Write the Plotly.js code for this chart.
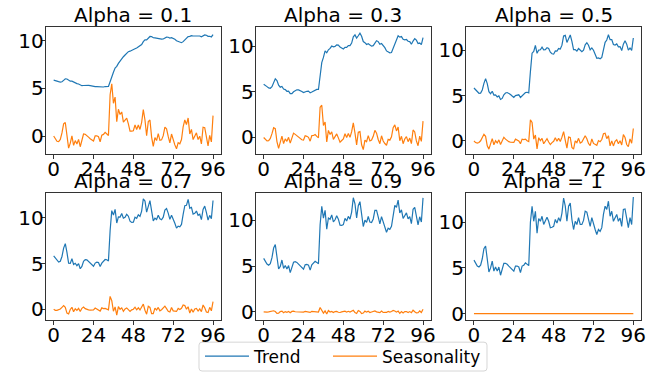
<!DOCTYPE html>
<html>
<head>
<meta charset="utf-8">
<script src="https://cdn.plot.ly/plotly-3.0.1.min.js"></script>
<style>html,body{margin:0;padding:0;background:#fff;}#chart{width:668px;height:375px;}</style>
</head>
<body>
<div id="chart"></div>
<script>
// ---------- data ----------
const hours = [0,1,2,3,4,5,6,7,8,9,10,11,12,13,14,15,16,17,18,19,20,21,22,23,24,25,26,27,28,29,30,31,32,33,34,35,36,37,38,39,40,41,42,43,44,45,46,47,48,49,50,51,52,53,54,55,56,57,58,59,60,61,62,63,64,65,66,67,68,69,70,71,72,73,74,75,76,77,78,79,80,81,82,83,84,85,86,87,88,89,90,91,92,93,94,95,96];

const panelTitles = ["Alpha = 0.1", "Alpha = 0.3", "Alpha = 0.5", "Alpha = 0.7", "Alpha = 0.9", "Alpha = 1"];
const seriesNames = ["Trend", "Seasonality"];
const xTickVals = [0, 24, 48, 72, 96];
const yTickVals = [0, 5, 10];

const trend01 = [5.85,5.82,5.75,5.69,5.65,5.68,5.83,5.98,5.97,5.82,5.74,5.74,5.63,5.58,5.49,5.45,5.32,5.27,5.29,5.32,5.32,5.31,5.28,5.23,5.17,5.18,5.18,5.17,5.10,5.11,5.13,5.18,5.20,5.20,5.68,6.29,6.67,7.12,7.29,7.60,7.85,8.13,8.30,8.48,8.68,8.83,8.88,8.94,9.00,9.13,9.21,9.34,9.41,9.57,9.88,10.07,10.07,10.24,10.42,10.41,10.29,10.27,10.22,10.25,10.20,10.15,10.16,10.26,10.35,10.34,10.26,10.29,10.23,10.13,9.98,9.90,9.81,9.77,9.88,10.07,10.20,10.41,10.43,10.51,10.47,10.48,10.52,10.47,10.47,10.38,10.48,10.58,10.55,10.44,10.44,10.37,10.61];
const season01 = [0,-0.32,-0.55,-0.59,-0.35,0.32,1.27,1.42,-0.17,-1.27,-0.74,0.01,-0.98,-0.48,-0.84,-0.35,-1.12,-0.47,0.21,0.19,0.08,-0.11,-0.28,-0.43,-0.52,0.02,0.02,-0.07,-0.60,0.09,0.17,0.38,0.20,0.05,4.32,5.46,3.43,4.08,1.51,2.80,2.25,2.52,1.46,1.63,1.87,1.28,0.52,0.51,0.55,1.17,0.69,1.16,0.69,1.43,2.77,1.68,0.03,1.51,1.68,-0.11,-1.09,-0.17,-0.47,0.25,-0.45,-0.40,0.04,0.94,0.75,-0.04,-0.71,0.21,-0.48,-0.93,-1.33,-0.70,-0.81,-0.37,0.97,1.68,1.20,1.89,0.22,0.69,-0.37,0.07,0.34,-0.37,-0.02,-0.83,0.92,0.87,-0.25,-1.04,0.06,-0.62,2.14];

const trend03 = [5.85,5.75,5.58,5.44,5.40,5.58,6.03,6.44,6.25,5.74,5.52,5.59,5.31,5.25,5.07,5.08,4.81,4.81,5.02,5.16,5.23,5.22,5.16,5.05,4.93,5.01,5.07,5.08,4.90,4.99,5.09,5.23,5.28,5.27,6.69,8.21,8.78,9.50,9.29,9.62,9.77,10.03,9.95,9.99,10.16,10.14,9.92,9.78,9.71,9.89,9.89,10.07,10.08,10.36,11.05,11.26,10.91,11.16,11.44,11.10,10.53,10.40,10.21,10.29,10.13,10.02,10.07,10.41,10.62,10.52,10.23,10.31,10.14,9.86,9.50,9.41,9.29,9.32,9.78,10.37,10.68,11.17,11.01,11.07,10.78,10.71,10.75,10.56,10.52,10.23,10.58,10.84,10.68,10.30,10.36,10.18,10.95];
const season03 = [0,-0.25,-0.38,-0.34,-0.10,0.42,1.07,0.96,-0.45,-1.19,-0.52,0.16,-0.66,-0.15,-0.42,0.02,-0.61,-0.01,0.48,0.34,0.17,-0.02,-0.16,-0.25,-0.28,0.19,0.13,0.02,-0.40,0.21,0.22,0.33,0.12,-0.02,3.31,3.54,1.33,1.70,-0.49,0.78,0.33,0.62,-0.20,0.11,0.39,-0.04,-0.52,-0.33,-0.16,0.41,0.01,0.43,0.02,0.64,1.61,0.49,-0.81,0.59,0.66,-0.80,-1.33,-0.30,-0.46,0.21,-0.38,-0.27,0.13,0.79,0.48,-0.22,-0.68,0.19,-0.39,-0.66,-0.85,-0.21,-0.29,0.08,1.07,1.38,0.72,1.14,-0.36,0.13,-0.68,-0.16,0.10,-0.46,-0.07,-0.68,0.82,0.61,-0.38,-0.90,0.14,-0.43,1.80];

const trend05 = [5.85,5.68,5.44,5.27,5.29,5.64,6.37,6.89,6.34,5.45,5.22,5.49,5.07,5.08,4.87,4.98,4.59,4.70,5.10,5.30,5.35,5.28,5.14,4.97,4.81,5.01,5.10,5.10,4.80,5.00,5.15,5.35,5.38,5.31,7.66,9.70,9.90,10.55,9.68,10.04,10.07,10.36,10.06,10.08,10.31,10.21,9.80,9.63,9.59,9.95,9.92,10.21,10.16,10.58,11.61,11.68,10.89,11.32,11.71,11.01,10.10,10.10,9.93,10.21,9.98,9.87,10.03,10.62,10.86,10.58,10.07,10.28,10.02,9.61,9.13,9.17,9.08,9.24,10.05,10.90,11.15,11.73,11.19,11.19,10.65,10.60,10.72,10.41,10.43,9.99,10.70,11.07,10.69,10.04,10.27,10.01,11.38];
const season05 = [0,-0.18,-0.24,-0.17,0.02,0.36,0.73,0.51,-0.54,-0.90,-0.22,0.26,-0.42,0.02,-0.22,0.12,-0.39,0.10,0.40,0.20,0.05,-0.08,-0.14,-0.17,-0.16,0.20,0.10,0.00,-0.30,0.20,0.15,0.20,0.03,-0.06,2.34,2.05,0.20,0.65,-0.88,0.36,0.03,0.29,-0.31,0.02,0.24,-0.11,-0.40,-0.18,-0.04,0.36,-0.02,0.29,-0.06,0.42,1.04,0.07,-0.79,0.43,0.39,-0.71,-0.90,0.00,-0.18,0.29,-0.23,-0.12,0.17,0.58,0.24,-0.28,-0.51,0.22,-0.27,-0.41,-0.48,0.04,-0.08,0.16,0.80,0.85,0.25,0.58,-0.54,0.01,-0.55,-0.05,0.13,-0.31,0.02,-0.44,0.70,0.38,-0.39,-0.64,0.23,-0.26,1.37];

const trend07 = [5.85,5.61,5.32,5.17,5.26,5.78,6.70,7.19,6.22,5.05,5.02,5.53,4.91,5.04,4.77,5.00,4.44,4.69,5.26,5.43,5.41,5.26,5.08,4.88,4.72,5.06,5.16,5.12,4.69,5.05,5.22,5.45,5.42,5.30,8.59,10.80,10.31,10.93,9.44,10.11,10.10,10.49,9.97,10.06,10.40,10.19,9.64,9.51,9.54,10.07,9.95,10.34,10.17,10.75,12.08,11.85,10.63,11.41,11.89,10.78,9.67,9.97,9.82,10.30,9.91,9.80,10.08,10.86,11.03,10.52,9.84,10.30,9.92,9.42,8.88,9.10,9.03,9.29,10.38,11.34,11.38,12.03,11.06,11.16,10.42,10.51,10.75,10.29,10.40,9.81,10.92,11.29,10.60,9.76,10.28,9.91,11.90];
const season07 = [0,-0.11,-0.12,-0.07,0.04,0.22,0.40,0.21,-0.42,-0.50,-0.02,0.22,-0.26,0.06,-0.12,0.10,-0.24,0.11,0.24,0.07,-0.01,-0.06,-0.08,-0.08,-0.07,0.14,0.04,-0.02,-0.19,0.16,0.08,0.10,-0.02,-0.05,1.41,0.95,-0.21,0.27,-0.64,0.29,0.00,0.16,-0.22,0.04,0.15,-0.09,-0.24,-0.06,0.01,0.23,-0.05,0.17,-0.07,0.25,0.57,-0.10,-0.53,0.34,0.21,-0.48,-0.47,0.13,-0.07,0.21,-0.16,-0.05,0.12,0.34,0.07,-0.22,-0.29,0.20,-0.17,-0.22,-0.23,0.10,-0.03,0.11,0.47,0.41,0.02,0.28,-0.41,0.04,-0.32,0.04,0.10,-0.19,0.05,-0.26,0.48,0.16,-0.30,-0.36,0.22,-0.16,0.85];

const trend09 = [5.85,5.54,5.23,5.11,5.28,5.93,6.98,7.36,5.96,4.69,4.97,5.67,4.75,5.07,4.69,5.06,4.29,4.75,5.43,5.49,5.41,5.22,5.02,4.82,4.67,5.15,5.20,5.11,4.56,5.14,5.28,5.52,5.41,5.27,9.53,11.53,10.24,11.10,9.03,10.26,10.12,10.60,9.84,10.07,10.50,10.14,9.47,9.45,9.54,10.22,9.93,10.44,10.13,10.91,12.48,11.82,10.27,11.60,12.05,10.48,9.33,10.02,9.78,10.43,9.82,9.76,10.16,11.10,11.10,10.38,9.63,10.41,9.82,9.26,8.71,9.15,9.02,9.36,10.70,11.65,11.43,12.21,10.81,11.16,10.21,10.52,10.82,10.17,10.42,9.64,11.22,11.43,10.41,9.50,10.40,9.82,12.46];
const season09 = [0,-0.04,-0.03,-0.01,0.02,0.07,0.12,0.04,-0.16,-0.14,0.03,0.08,-0.10,0.03,-0.04,0.04,-0.09,0.05,0.08,0.01,-0.01,-0.02,-0.02,-0.02,-0.02,0.05,0.01,-0.01,-0.06,0.06,0.02,0.03,-0.01,-0.02,0.47,0.22,-0.14,0.10,-0.23,0.14,-0.02,0.05,-0.08,0.03,0.05,-0.04,-0.07,0.00,0.01,0.08,-0.03,0.06,-0.03,0.09,0.17,-0.07,-0.17,0.15,0.05,-0.18,-0.13,0.08,-0.03,0.07,-0.07,-0.01,0.04,0.10,0.00,-0.08,-0.08,0.09,-0.07,-0.06,-0.06,0.05,-0.02,0.04,0.15,0.10,-0.03,0.09,-0.16,0.04,-0.11,0.03,0.03,-0.07,0.03,-0.09,0.18,0.02,-0.11,-0.10,0.10,-0.07,0.29];

const trend10 = [5.85,5.5,5.2,5.1,5.3,6.0,7.1,7.4,5.8,4.55,5.0,5.75,4.65,5.1,4.65,5.1,4.2,4.8,5.5,5.5,5.4,5.2,5.0,4.8,4.65,5.2,5.2,5.1,4.5,5.2,5.3,5.55,5.4,5.25,10.0,11.75,10.1,11.2,8.8,10.4,10.1,10.65,9.75,10.1,10.55,10.1,9.4,9.45,9.55,10.3,9.9,10.5,10.1,11.0,12.65,11.75,10.1,11.75,12.1,10.3,9.2,10.1,9.75,10.5,9.75,9.75,10.2,11.2,11.1,10.3,9.55,10.5,9.75,9.2,8.65,9.2,9.0,9.4,10.85,11.75,11.4,12.3,10.65,11.2,10.1,10.55,10.85,10.1,10.45,9.55,11.4,11.45,10.3,9.4,10.5,9.75,12.75];
const season10 = [0,0,0,0,0,0,0,0,0,0,0,0,0,0,0,0,0,0,0,0,0,0,0,0,0,0,0,0,0,0,0,0,0,0,0,0,0,0,0,0,0,0,0,0,0,0,0,0,0,0,0,0,0,0,0,0,0,0,0,0,0,0,0,0,0,0,0,0,0,0,0,0,0,0,0,0,0,0,0,0,0,0,0,0,0,0,0,0,0,0,0,0,0,0,0,0,0];

// ---------- layout (positions / styles only) ----------
const W = 668, H = 375;
const colPx = [[45.7, 221.0], [255.7, 431.0], [466.0, 641.3]];
const rowPx = [[26.7, 155.0], [194.0, 322.0]];
const yRanges = [[-1.9, 11.46], [-1.83, 12.17], [-1.46, 12.64], [-1.2, 12.73], [-0.92, 13.0], [-0.73, 13.2]];
const trends = [trend01, trend03, trend05, trend07, trend09, trend10];
const seasons = [season01, season03, season05, season07, season09, season10];
const BLUE = '#1f77b4', ORANGE = '#ff7f0e';
const FONT = 'DejaVu Sans, sans-serif';

// legend frame (matplotlib-style rounded box), pixels
const LB = {x0: 199, x1: 487, y0: 344, y1: 373, r: 3};
function px2x(v) { return v / W; }
function px2y(v) { return 1 - v / H; }
const framePath = (() => {
  const {x0, x1, y0, y1, r} = LB;
  const X = v => px2x(v).toFixed(5), Y = v => px2y(v).toFixed(5);
  return 'M' + X(x0 + r) + ',' + Y(y0) + ' L' + X(x1 - r) + ',' + Y(y0) +
    ' Q' + X(x1) + ',' + Y(y0) + ' ' + X(x1) + ',' + Y(y0 + r) +
    ' L' + X(x1) + ',' + Y(y1 - r) + ' Q' + X(x1) + ',' + Y(y1) + ' ' + X(x1 - r) + ',' + Y(y1) +
    ' L' + X(x0 + r) + ',' + Y(y1) + ' Q' + X(x0) + ',' + Y(y1) + ' ' + X(x0) + ',' + Y(y1 - r) +
    ' L' + X(x0) + ',' + Y(y0 + r) + ' Q' + X(x0) + ',' + Y(y0) + ' ' + X(x0 + r) + ',' + Y(y0) + ' Z';
})();

const legendCommon = {
  orientation: 'h', xanchor: 'left', y: px2y(358.5), yanchor: 'middle',
  borderwidth: 0, bgcolor: 'rgba(0,0,0,0)', itemwidth: 44,
  font: {family: FONT, size: 17, color: '#000'}
};

const data = [];
const layout = {
  width: W, height: H,
  margin: {l: 0, r: 0, t: 0, b: 0},
  paper_bgcolor: '#ffffff', plot_bgcolor: '#ffffff',
  font: {family: FONT, color: '#000', size: 20},
  showlegend: true,
  legend: Object.assign({}, legendCommon, {x: px2x(200)}),
  legend2: Object.assign({}, legendCommon, {x: px2x(328)}),
  shapes: [{type: 'path', xref: 'paper', yref: 'paper', path: framePath,
            line: {color: '#d6d6d6', width: 1}, fillcolor: '#ffffff', layer: 'below'}],
  annotations: []
};

for (let p = 0; p < 6; p++) {
  const r = Math.floor(p / 3), c = p % 3;
  const ax = p === 0 ? '' : String(p + 1);
  const xd = [colPx[c][0] / W, colPx[c][1] / W];
  const yd = [1 - rowPx[r][1] / H, 1 - rowPx[r][0] / H];
  const common = {
    showline: true, mirror: true, linecolor: '#333', linewidth: 1,
    ticks: 'outside', ticklen: 4, tickwidth: 1, tickcolor: '#333',
    showgrid: false, zeroline: false, ticklabelstandoff: -7,
    tickfont: {family: FONT, size: 20, color: '#000'}
  };
  layout['xaxis' + ax] = Object.assign({}, common, {
    domain: xd, anchor: 'y' + ax, range: [-4.8, 100.8],
    tickmode: 'array', tickvals: xTickVals, ticktext: xTickVals.map(String)
  });
  layout['yaxis' + ax] = Object.assign({}, common, {
    domain: yd, anchor: 'x' + ax, range: yRanges[p],
    tickmode: 'array', tickvals: yTickVals, ticktext: yTickVals.map(String)
  });
  data.push({
    x: hours, y: trends[p], type: 'scatter', mode: 'lines', name: seriesNames[0],
    xaxis: 'x' + ax, yaxis: 'y' + ax, line: {color: BLUE, width: 1.2},
    showlegend: p === 0, legend: 'legend', legendgroup: 'trend', hoverinfo: 'skip'
  });
  data.push({
    x: hours, y: seasons[p], type: 'scatter', mode: 'lines', name: seriesNames[1],
    xaxis: 'x' + ax, yaxis: 'y' + ax, line: {color: ORANGE, width: 1.2},
    showlegend: p === 0, legend: 'legend2', legendgroup: 'season', hoverinfo: 'skip'
  });
  layout.annotations.push({
    text: panelTitles[p], xref: 'paper', yref: 'paper',
    x: (xd[0] + xd[1]) / 2, y: yd[1], xanchor: 'center', yanchor: 'bottom', yshift: -2,
    showarrow: false, font: {family: FONT, size: 20, color: '#000'}
  });
}

Plotly.newPlot('chart', data, layout, {displayModeBar: false, staticPlot: true});
</script>
</body>
</html>
